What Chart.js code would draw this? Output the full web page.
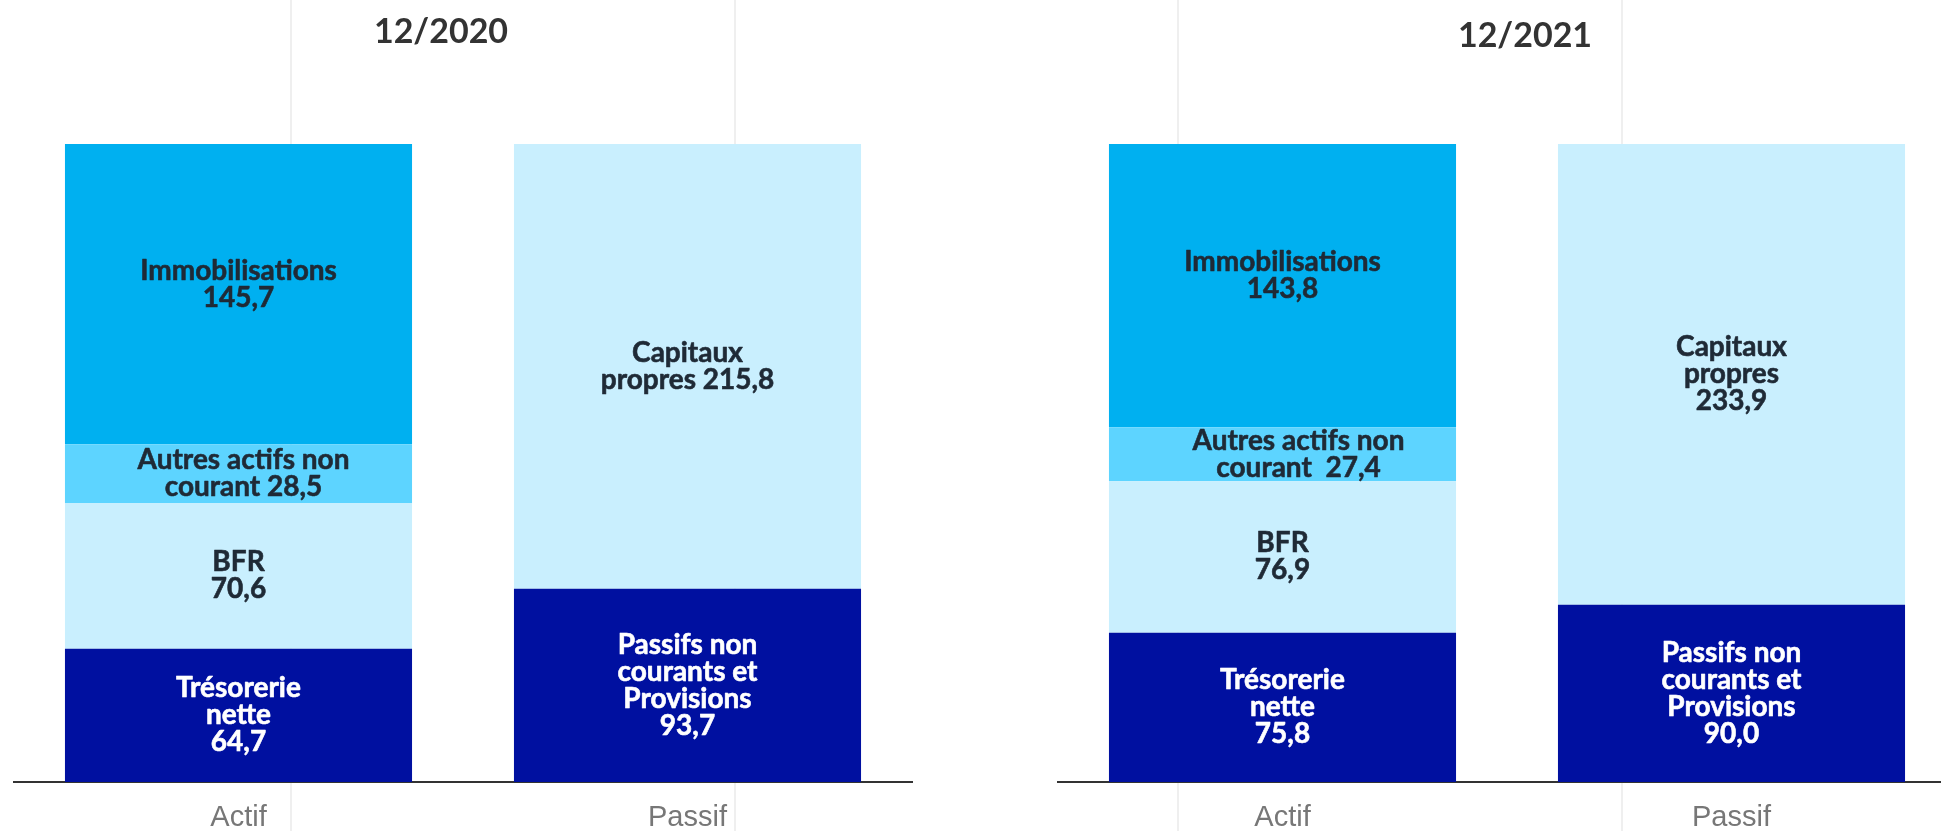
<!DOCTYPE html>
<html>
<head>
<meta charset="utf-8">
<script src="https://cdn.jsdelivr.net/npm/chart.js@4.4.1/dist/chart.umd.min.js"></script>
<style>
html, body { margin: 0; padding: 0; width: 1941px; height: 831px; overflow: hidden; background: #fff; }
body { background-image: repeating-linear-gradient(to right, transparent 0, transparent 290px, #efefef 290px, #efefef 292px, transparent 292px, transparent 443.5px); }
.box { position: absolute; top: 0; width: 926px; height: 831px; }
#box2020 { left: 0; }
#box2021 { left: 1044px; }
</style>
</head>
<body>
<div class="box" id="box2020"><canvas id="chart2020"></canvas></div>
<div class="box" id="box2021"><canvas id="chart2021"></canvas></div>
<script>
// values in M€, index 0 = 12/2020, index 1 = 12/2021
const years = ['12/2020', '12/2021'];
const categories = ['Actif', 'Passif'];
const tresorerie = [64.7, 75.8];
const bfr = [70.6, 76.9];
const autresActifs = [28.5, 27.4];
const immobilisations = [145.7, 143.8];
const passifsNonCourants = [93.7, 90.0];
const capitauxPropres = [215.8, 233.9];

const DARK = '#0010a0';
const LIGHT = '#c9effe';
const MID = '#5dd4ff';
const BLUE = '#00b0f0';

function fr(v) { return v.toFixed(1).replace('.', ','); }

// text inside each segment, per year
const labelText = [
  {
    tres: ['Trésorerie', 'nette', fr(tresorerie[0])],
    bfr: ['BFR', fr(bfr[0])],
    autres: ['Autres actifs non', 'courant ' + fr(autresActifs[0])],
    immo: ['Immobilisations', fr(immobilisations[0])],
    pnc: ['Passifs non', 'courants et', 'Provisions', fr(passifsNonCourants[0])],
    cap: ['Capitaux', 'propres ' + fr(capitauxPropres[0])]
  },
  {
    tres: ['Trésorerie', 'nette', fr(tresorerie[1])],
    bfr: ['BFR', fr(bfr[1])],
    autres: ['Autres actifs non', 'courant  ' + fr(autresActifs[1])],
    immo: ['Immobilisations', fr(immobilisations[1])],
    pnc: ['Passifs non', 'courants et', 'Provisions', fr(passifsNonCourants[1])],
    cap: ['Capitaux', 'propres', fr(capitauxPropres[1])]
  }
];
const autresShiftX = [5, 16];

const segmentLabels = {
  id: 'segmentLabels',
  afterDatasetsDraw(chart) {
    const ctx = chart.ctx;
    ctx.save();
    ctx.font = 'bold 28px Lato';
    ctx.textAlign = 'center';
    ctx.textBaseline = 'middle';
    ctx.lineWidth = 0.6;
    ctx.lineJoin = 'round';
    chart.data.datasets.forEach((ds, di) => {
      chart.getDatasetMeta(di).data.forEach((bar, i) => {
        const lines = ds.segmentText[i];
        if (!lines) return;
        const p = bar.getProps(['x', 'y', 'base'], true);
        const cx = p.x + (ds.textShiftX || 0);
        const cy = (p.y + p.base) / 2 + (ds.textShift || 0);
        ctx.fillStyle = ds.textColor;
        ctx.strokeStyle = ds.textColor;
        lines.forEach((t, k) => {
          const ty = cy + (k - (lines.length - 1) / 2) * 27;
          ctx.fillText(t, cx, ty);
          ctx.strokeText(t, cx, ty);
        });
      });
    });
    ctx.restore();
  }
};

const yearTitle = {
  id: 'yearTitle',
  afterDraw(chart, args, opts) {
    const ctx = chart.ctx;
    ctx.save();
    ctx.font = 'bold 34px Lato';
    ctx.fillStyle = '#333333';
    ctx.textAlign = 'center';
    ctx.textBaseline = 'alphabetic';
    ctx.fillText(opts.text, opts.x, opts.y);
    ctx.restore();
  }
};

function makeChart(id, idx, titleX, titleY) {
  const t = labelText[idx];
  const total = tresorerie[idx] + bfr[idx] + autresActifs[idx] + immobilisations[idx];
  return new Chart(document.getElementById(id), {
    type: 'bar',
    data: {
      labels: categories,
      datasets: [
        { label: 'Trésorerie / Passifs non courants', data: [tresorerie[idx], passifsNonCourants[idx]],
          backgroundColor: DARK, textColor: '#ffffff', segmentText: [t.tres, t.pnc] },
        { label: 'BFR / Capitaux propres', data: [bfr[idx], capitauxPropres[idx]],
          backgroundColor: LIGHT, textColor: '#1f2a36', segmentText: [t.bfr, t.cap] },
        { label: 'Autres actifs non courant', data: [autresActifs[idx], null],
          backgroundColor: MID, textColor: '#1f2a36', segmentText: [t.autres, null], textShiftX: autresShiftX[idx] },
        { label: 'Immobilisations', data: [immobilisations[idx], null],
          backgroundColor: BLUE, textColor: '#1f2a36', segmentText: [t.immo, null], textShift: -10 }
      ]
    },
    options: {
      responsive: true,
      maintainAspectRatio: false,
      animation: false,
      layout: { padding: { top: 144, left: 14, right: 14, bottom: 0 } },
      datasets: { bar: { barPercentage: 0.773, categoryPercentage: 1, borderWidth: 0 } },
      plugins: {
        legend: { display: false },
        tooltip: { enabled: false },
        yearTitle: { text: years[idx], x: titleX, y: titleY }
      },
      scales: {
        x: {
          stacked: true,
          grid: { display: true, color: 'rgba(0,0,0,0)', drawTicks: false, drawOnChartArea: false },
          border: { display: true, color: '#333333', width: 2 },
          ticks: { color: '#777777', font: { family: 'Liberation Sans', size: 29 }, padding: 19 },
          afterFit(scale) { scale.height = 49; }
        },
        y: { stacked: true, display: false, min: 0, max: total }
      }
    },
    plugins: [segmentLabels, yearTitle]
  });
}

document.fonts.load('bold 28px Lato').then(() => {
  makeChart('chart2020', 0, 441, 43);
  makeChart('chart2021', 1, 481, 47);
});
</script>
</body>
</html>
